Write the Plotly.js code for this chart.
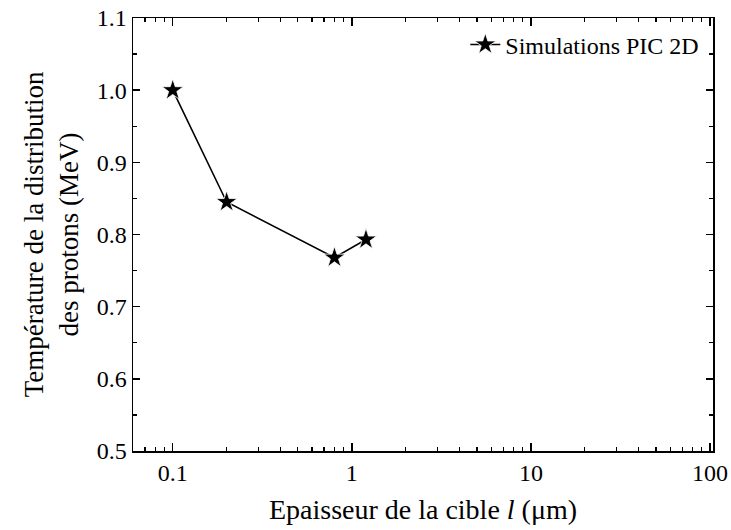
<!DOCTYPE html>
<html>
<head>
<meta charset="utf-8">
<script src="https://cdn.plot.ly/plotly-3.0.1.min.js"></script>
<style>html,body{margin:0;padding:0;background:#fff;}</style>
</head>
<body>
<div id="chart" style="width:731px;height:530px;"></div>
<script>
const thickness = [0.1, 0.2, 0.8, 1.2];
const temperature = [1.0, 0.845, 0.768, 0.793];
const seriesName = "Simulations PIC 2D";
const xTickVals = [0.1, 1, 10, 100];
const xTickText = ["0.1", "1", "10", "100"];
const yTickVals = [0.5, 0.6, 0.7, 0.8, 0.9, 1.0, 1.1];

const font = "Liberation Serif";

// minor ticks at 2..9 of each decade
const xMinor = [];
[0.01, 0.1, 1, 10].forEach(d => { for (let k = 2; k <= 9; k++) xMinor.push(+(k * d).toPrecision(3)); });

const trace = {
  x: thickness,
  y: temperature,
  type: "scatter",
  mode: "lines+markers",
  name: seriesName,
  line: {color: "#000", width: 1.6},
  marker: {symbol: "star", size: 16, color: "#000", line: {color: "#fff", width: 0.8}}
};

const layout = {
  width: 731, height: 530,
  margin: {l: 133, r: 18, t: 18, b: 79},
  paper_bgcolor: "#fff", plot_bgcolor: "#fff",
  font: {family: font, color: "#000", size: 24},
  showlegend: true,
  legend: {x: 0.985, y: 0.99, xanchor: "right", yanchor: "top",
           bgcolor: "rgba(0,0,0,0)", font: {size: 24, family: font, color: "#000"}},
  xaxis: {
    type: "log",
    range: [Math.log10(0.06), Math.log10(104)],
    tickmode: "array", tickvals: xTickVals, ticktext: xTickText,
    ticks: "inside", ticklen: 8, tickwidth: 1.5, tickcolor: "#000",
    minor: {tickmode: "array", tickvals: xMinor, ticks: "inside", ticklen: 4, tickwidth: 1.2, tickcolor: "#000", showgrid: false},
    showline: true, linewidth: 1.5, linecolor: "#000", mirror: "allticks",
    showgrid: false, zeroline: false,
    tickfont: {size: 24, family: font, color: "#000"},
    title: {text: "Epaisseur de la cible <i>l</i> (μm)", font: {size: 28, family: font, color: "#000"}, standoff: 14}
  },
  yaxis: {
    range: [0.5, 1.1],
    tickmode: "array", tickvals: yTickVals, tickformat: ".1f",
    ticks: "inside", ticklen: 7, tickwidth: 1.5, tickcolor: "#000",
    minor: {dtick: 0.05, ticks: "inside", ticklen: 4, tickwidth: 1.2, tickcolor: "#000", showgrid: false},
    showline: true, linewidth: 1.5, linecolor: "#000", mirror: "allticks",
    showgrid: false, zeroline: false,
    tickfont: {size: 24, family: font, color: "#000"},
    title: {text: "Température de la distribution<br>des protons (MeV)", font: {size: 27, family: font, color: "#000"}, standoff: 10}
  }
};

Plotly.newPlot("chart", [trace], layout, {displayModeBar: false, staticPlot: true});
</script>
</body>
</html>
